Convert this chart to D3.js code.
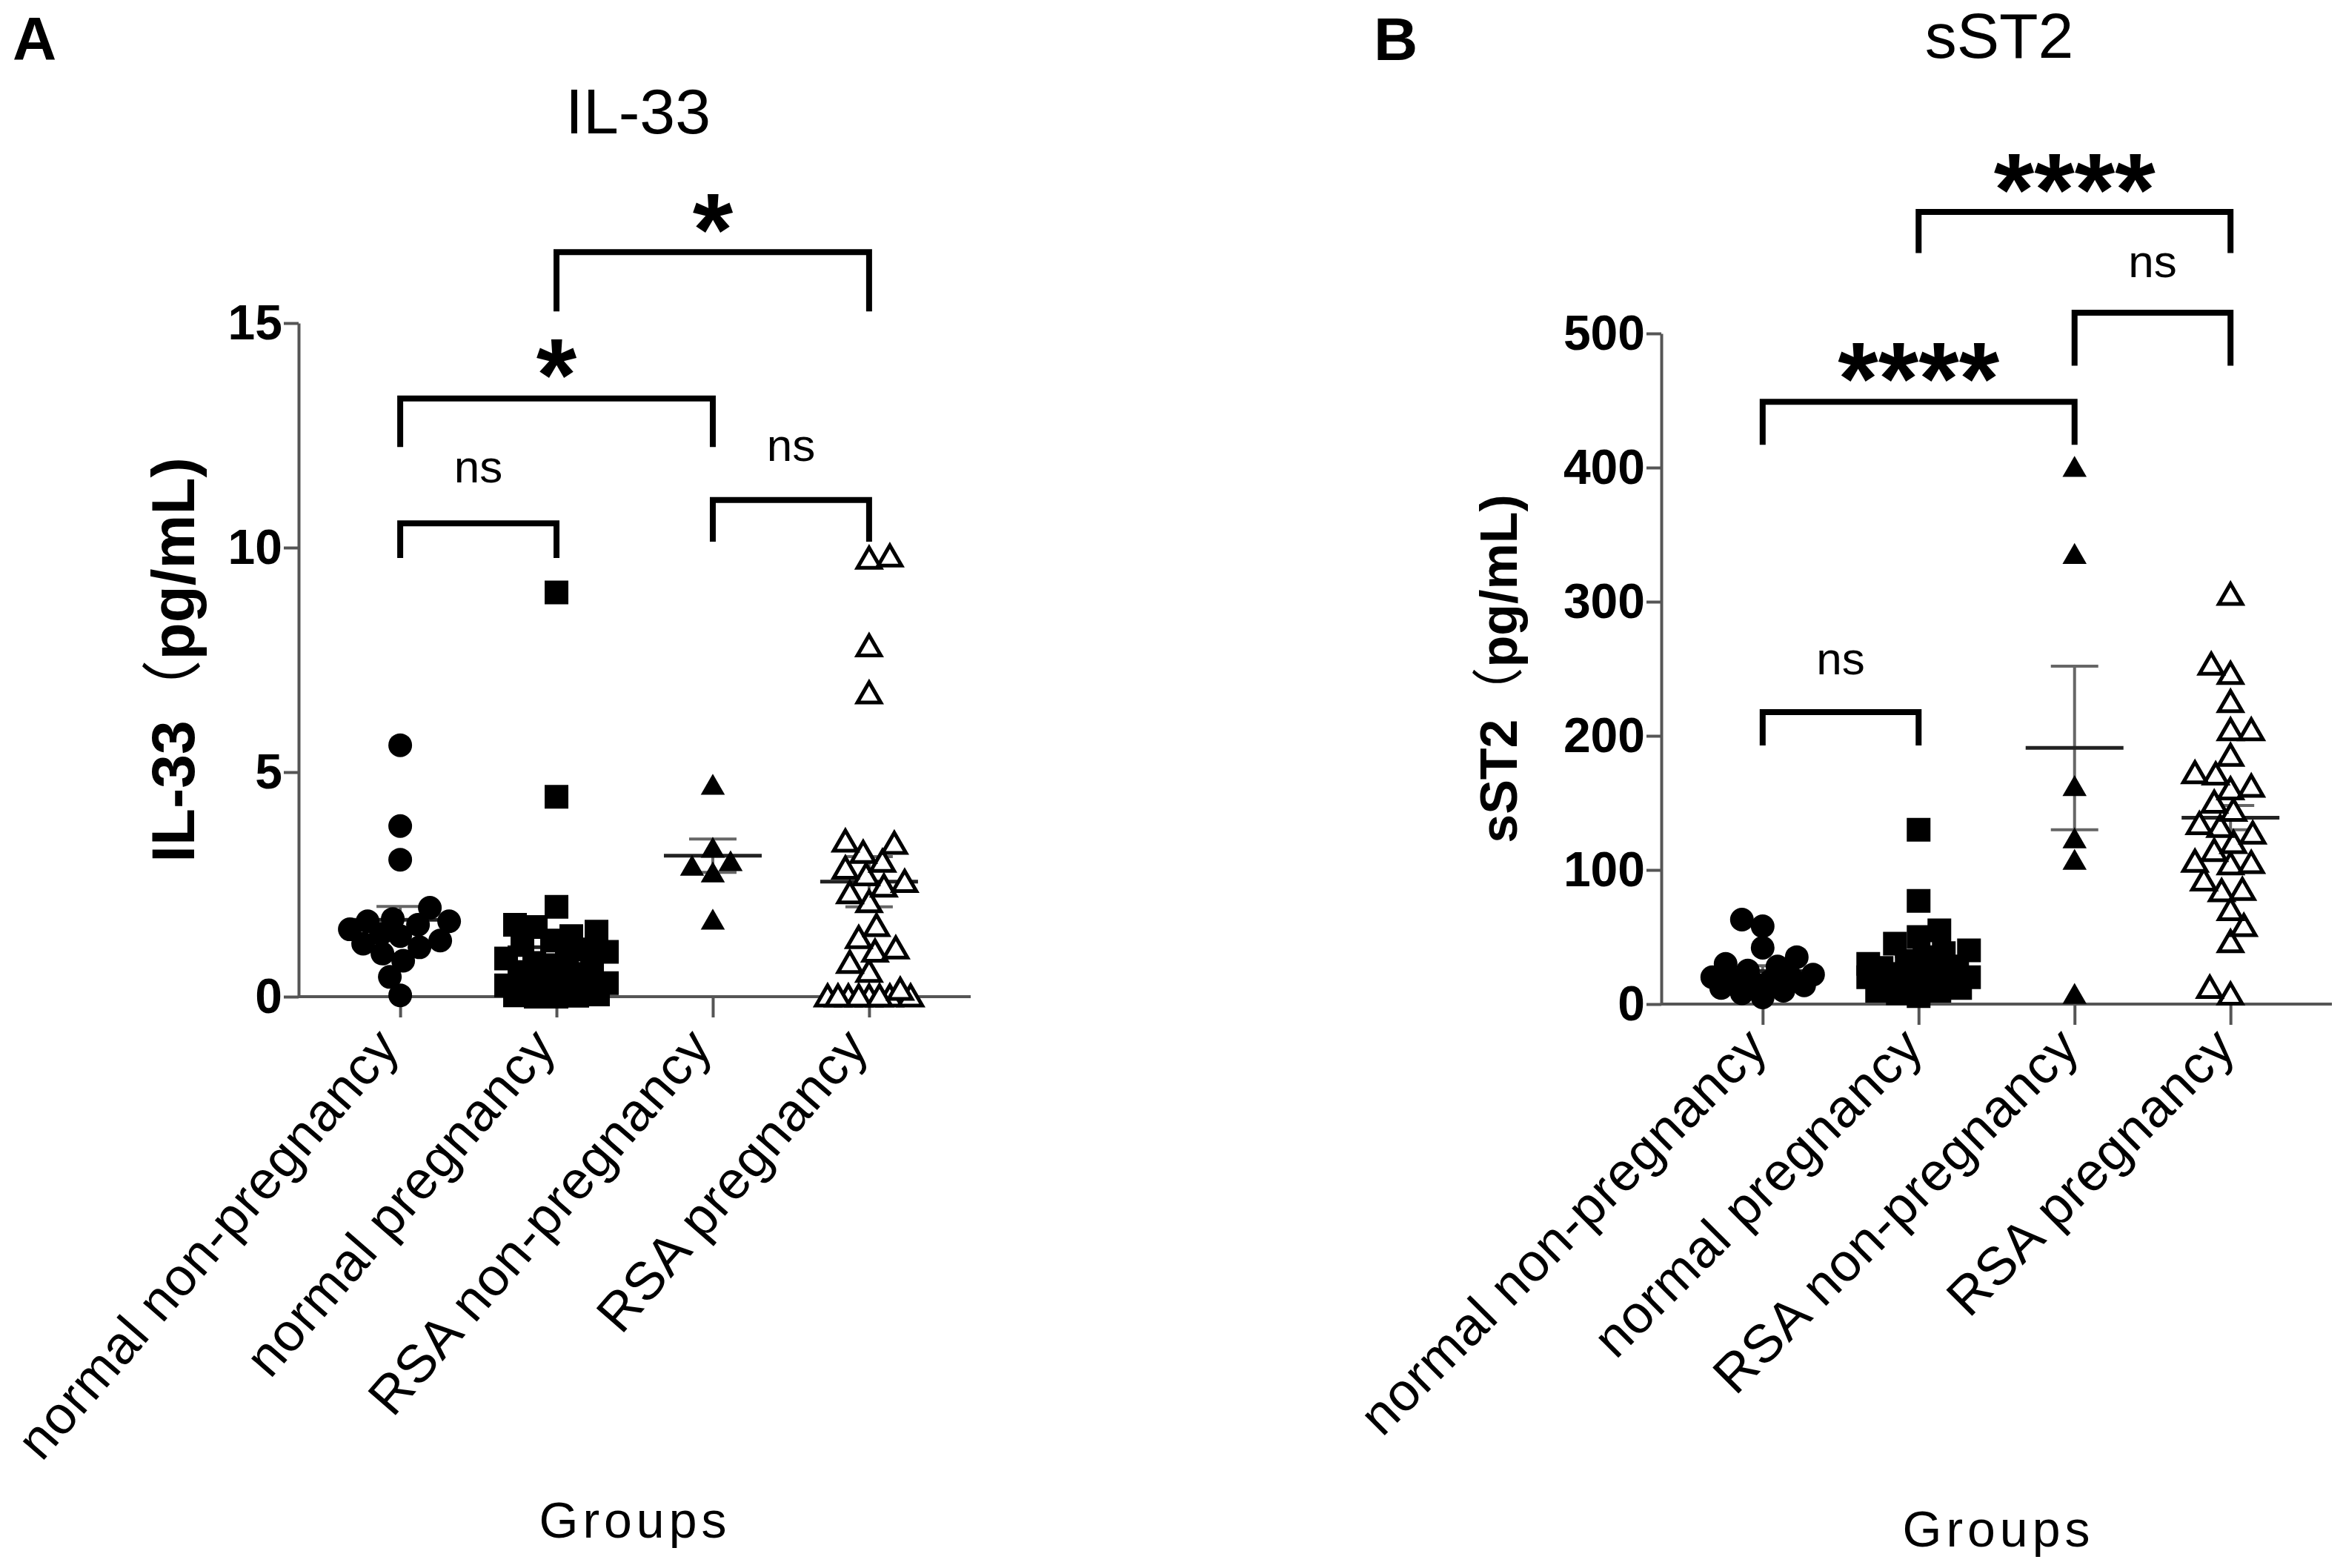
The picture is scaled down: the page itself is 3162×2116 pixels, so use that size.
<!DOCTYPE html>
<html>
<head>
<meta charset="utf-8">
<script src="https://cdn.jsdelivr.net/npm/d3@7"></script>
<style>
  body { margin: 0; background: #fff; }
  svg { display: block; }
  text { font-family: "Liberation Sans", Arial, "Noto Sans CJK SC", sans-serif; }
</style>
</head>
<body>
<div id="figure"></div>
<script>
// groups on the x axis
var groups = ["normal non-pregnancy", "normal pregnancy", "RSA non-pregnancy", "RSA pregnancy"];

// IL-33 (pg/mL)
var il33NormalNonPreg = [5.6, 3.8, 3.05, 1.98, 1.73, 1.68, 1.68, 1.6, 1.5, 1.4, 1.35, 1.25, 1.18, 1.1, 0.96, 0.8, 0.44, 0.03];
var il33NormalPreg = [9.0, 4.45, 2.0, 1.6, 1.55, 1.45, 1.35, 1.25, 1.15, 1.05, 1.0, 0.9, 0.85, 0.75, 0.7, 0.65, 0.55, 0.5, 0.4, 0.35, 0.3, 0.25, 0.2, 0.15, 0.1, 0.08, 0.05, 0.03, 0.02, 0, 0];
var il33RsaNonPreg = [4.7, 3.3, 3.0, 2.9, 2.75, 1.7];
var il33RsaPreg = [9.8, 9.75, 7.8, 6.75, 3.45, 3.4, 3.2, 3.0, 2.85, 2.7, 2.55, 2.45, 2.3, 2.1, 1.57, 1.3, 1.07, 1.0, 0.75, 0.55, 0.15, 0, 0, 0, 0, 0, 0, 0, 0];
var il33Mean = [1.71, 1.1, 3.14, 2.56];
var il33Sem = [0.3, 0.35, 0.37, 0.56];
var il33Ticks = [0, 5, 10, 15];
var il33Compare = [
  {a: 0, b: 1, top: 10.54, leg: 9.77, label: "ns", at: 11.72},
  {a: 2, b: 3, top: 11.06, leg: 10.13, label: "ns", at: 12.19},
  {a: 0, b: 2, top: 13.32, leg: 12.24, label: "*", at: 14.34},
  {a: 1, b: 3, top: 16.58, leg: 15.26, label: "*", at: 17.57}
];

// sST2 (pg/mL)
var sst2NormalNonPreg = [63, 58, 42, 35, 30, 28, 25, 22, 20, 20, 18, 17, 15, 14, 12, 10, 8, 5];
var sst2NormalPreg = [130, 77, 55, 50, 45, 40, 38, 35, 32, 30, 28, 27, 25, 24, 22, 20, 20, 18, 17, 15, 14, 12, 10, 10, 8, 6];
var sst2RsaNonPreg = [400, 335, 162, 123, 107, 7];
var sst2RsaPreg = [305, 253, 246, 225, 204, 204, 185, 172, 171, 162, 160, 150, 144, 134, 132, 127, 120, 114, 106, 105, 104, 92, 85, 84, 70, 58, 46, 12, 7];
var sst2Mean = [24.6, 30, 191, 139];
var sst2Sem = [4, 5.5, 61, 9];
var sst2Ticks = [0, 100, 200, 300, 400, 500];
var sst2Compare = [
  {a: 0, b: 1, top: 217.7, leg: 192.8, label: "ns", at: 254.7},
  {a: 0, b: 2, top: 449, leg: 417, label: "****", at: 483},
  {a: 2, b: 3, top: 515.5, leg: 476, label: "ns", at: 551},
  {a: 1, b: 3, top: 590.6, leg: 560, label: "****", at: 624}
];

var W = 3162, H = 2116;
var svg = d3.select("#figure").append("svg")
    .attr("width", W)
    .attr("height", H)
    .attr("viewBox", "0 0 " + W + " " + H);

var markSize = 32;
var axisColor = "#555";

// simple beeswarm: nudge each point sideways until it stops overlapping
function swarm(vals, y, d, maxHalf) {
  var pts = vals.map(function (v) { return {v: v, py: y(v), dx: 0}; })
      .sort(function (a, b) { return b.py - a.py; });
  var placed = [];
  var pref = -1;
  pts.forEach(function (p) {
    var best = 0, bestScore = -1, done = false;
    for (var off = 0; off <= maxHalf && !done; off += 2) {
      var signs = off === 0 ? [1] : [pref, -pref];
      for (var k = 0; k < signs.length; k++) {
        var x = off * signs[k];
        var minD = Infinity;
        placed.forEach(function (q) {
          var dd = Math.hypot(q.dx - x, q.py - p.py);
          if (dd < minD) minD = dd;
        });
        if (minD >= d) { best = x; done = true; break; }
        if (minD > bestScore + 0.5) { bestScore = minD; best = x; }
      }
    }
    p.dx = best;
    if (best !== 0) pref = best > 0 ? -1 : 1;
    placed.push(p);
  });
  return pts;
}

function drawPanel(cfg) {
  var g = svg.append("g");
  var x = d3.scalePoint().domain(groups).range([cfg.left, cfg.right]).padding(0.65);
  var y = d3.scaleLinear().domain(cfg.domain).range([cfg.y0, cfg.yTop]);

  // panel letter and title
  g.append("text").attr("x", cfg.letterX).attr("y", cfg.letterY)
      .attr("font-size", 82).attr("font-weight", "bold").text(cfg.letter);
  g.append("text").attr("x", cfg.titleX).attr("y", cfg.titleY)
      .attr("text-anchor", "middle").attr("font-size", 86).text(cfg.title);

  // y axis
  var yAxis = d3.axisLeft(y).tickValues(cfg.ticks).tickSize(20).tickSizeOuter(0).tickPadding(2);
  var ya = g.append("g").attr("transform", "translate(" + cfg.left + ",0)").call(yAxis);
  ya.select(".domain").attr("stroke", axisColor).attr("stroke-width", 4);
  ya.selectAll(".tick line").attr("stroke", axisColor).attr("stroke-width", 4);
  ya.selectAll(".tick text").attr("font-size", 66).attr("font-weight", "bold")
      .attr("fill", "#000").attr("font-family", "Liberation Sans, Arial, sans-serif");

  // x axis, labels drawn separately below
  var xAxis = d3.axisBottom(x).tickSize(28).tickSizeOuter(0).tickFormat("");
  var xa = g.append("g").attr("transform", "translate(0," + cfg.y0 + ")").call(xAxis);
  xa.select(".domain").attr("d", "M" + cfg.left + ",0H" + cfg.right)
      .attr("stroke", axisColor).attr("stroke-width", 4);
  xa.selectAll(".tick line").attr("stroke", axisColor).attr("stroke-width", 4);

  g.selectAll(".catlabel").data(groups).enter().append("text")
      .attr("class", "catlabel")
      .attr("transform", function (d) {
        return "translate(" + (x(d) + cfg.labelDx) + "," + (cfg.y0 + cfg.labelDy) + ") rotate(" + cfg.labelAngle + ")";
      })
      .attr("text-anchor", "end")
      .attr("font-size", 72)
      .attr("letter-spacing", cfg.labelSpacing)
      .text(function (d) { return d; });

  g.append("text").attr("x", cfg.groupsX).attr("y", cfg.groupsY)
      .attr("text-anchor", "middle").attr("font-size", 68).attr("letter-spacing", 6)
      .text("Groups");

  // y axis title
  var yt = g.append("text")
      .attr("transform", "translate(" + cfg.ytitleX + "," + ((cfg.y0 + cfg.yTop) / 2) + ") rotate(-90)")
      .attr("text-anchor", "middle").attr("font-size", cfg.ytitleSize).attr("font-weight", "bold");
  yt.append("tspan").text(cfg.ytitleA);
  yt.append("tspan").attr("font-family", "Noto Sans CJK SC").attr("font-weight", "normal").text("（");
  yt.append("tspan").text("pg/mL)");

  // mean and SEM, behind the points
  groups.forEach(function (grp, i) {
    var cx = x(grp), m = cfg.mean[i], s = cfg.sem[i];
    g.append("line").attr("x1", cx).attr("x2", cx).attr("y1", y(m - s)).attr("y2", y(m + s))
        .attr("stroke", "#666").attr("stroke-width", 4);
    [m - s, m + s].forEach(function (v) {
      g.append("line").attr("x1", cx - 32).attr("x2", cx + 32).attr("y1", y(v)).attr("y2", y(v))
          .attr("stroke", "#666").attr("stroke-width", 4);
    });
    g.append("line").attr("x1", cx - 66).attr("x2", cx + 66).attr("y1", y(m)).attr("y2", y(m))
        .attr("stroke", "#222").attr("stroke-width", 5);
  });

  // points
  var shapes = [
    {type: d3.symbolCircle, size: Math.PI * 16 * 16, fill: "#000"},
    {type: d3.symbolSquare, size: 32 * 32, fill: "#000"},
    {type: d3.symbolTriangle, size: 460, fill: "#000"},
    {type: d3.symbolTriangle, size: 430, fill: "#fff"}
  ];
  cfg.data.forEach(function (vals, i) {
    var cx = x(groups[i]);
    var pts = swarm(vals, y, markSize - 4, 68);
    var sh = shapes[i];
    g.append("g").selectAll("path").data(pts).enter().append("path")
        .attr("d", d3.symbol().type(sh.type).size(sh.size))
        .attr("transform", function (p) {
          var dy = sh.type === d3.symbolTriangle ? 3 : 0;
          return "translate(" + (cx + p.dx) + "," + (p.py + dy) + ")";
        })
        .attr("fill", sh.fill)
        .attr("stroke", "#000")
        .attr("stroke-width", i === 3 ? 5 : 0);
  });

  // significance brackets
  cfg.compare.forEach(function (c) {
    var xa1 = x(groups[c.a]), xb1 = x(groups[c.b]);
    g.append("path")
        .attr("d", "M" + xa1 + "," + y(c.leg) + "V" + y(c.top) + "H" + xb1 + "V" + y(c.leg))
        .attr("fill", "none").attr("stroke", "#000").attr("stroke-width", 8)
        .attr("stroke-linejoin", "miter");
    var star = c.label !== "ns";
    g.append("text")
        .attr("x", (xa1 + xb1) / 2)
        .attr("y", y(c.at) + (star ? 78 : 16))
        .attr("text-anchor", "middle")
        .attr("font-size", star ? 140 : 62)
        .attr("font-weight", star ? "bold" : "normal")
        .text(c.label);
  });
}

drawPanel({
  left: 403, right: 1310, y0: 1345, yTop: 436, domain: [0, 15], ticks: il33Ticks,
  letter: "A", letterX: 17, letterY: 80,
  title: "IL-33", titleX: 861, titleY: 180,
  ytitleA: "IL-33", ytitleSize: 82, ytitleX: 262,
  labelDx: 2, labelDy: 70, labelAngle: -49, labelSpacing: 1,
  groupsX: 857, groupsY: 2075,
  data: [il33NormalNonPreg, il33NormalPreg, il33RsaNonPreg, il33RsaPreg],
  mean: il33Mean, sem: il33Sem, compare: il33Compare
});

drawPanel({
  left: 2242, right: 3147, y0: 1355, yTop: 450, domain: [0, 500], ticks: sst2Ticks,
  letter: "B", letterX: 1854, letterY: 81,
  title: "sST2", titleX: 2698, titleY: 78,
  ytitleA: "sST2", ytitleSize: 70, ytitleX: 2047,
  labelDx: 10, labelDy: 62, labelAngle: -45, labelSpacing: 1,
  groupsX: 2697, groupsY: 2087,
  data: [sst2NormalNonPreg, sst2NormalPreg, sst2RsaNonPreg, sst2RsaPreg],
  mean: sst2Mean, sem: sst2Sem, compare: sst2Compare
});
</script>
</body>
</html>
